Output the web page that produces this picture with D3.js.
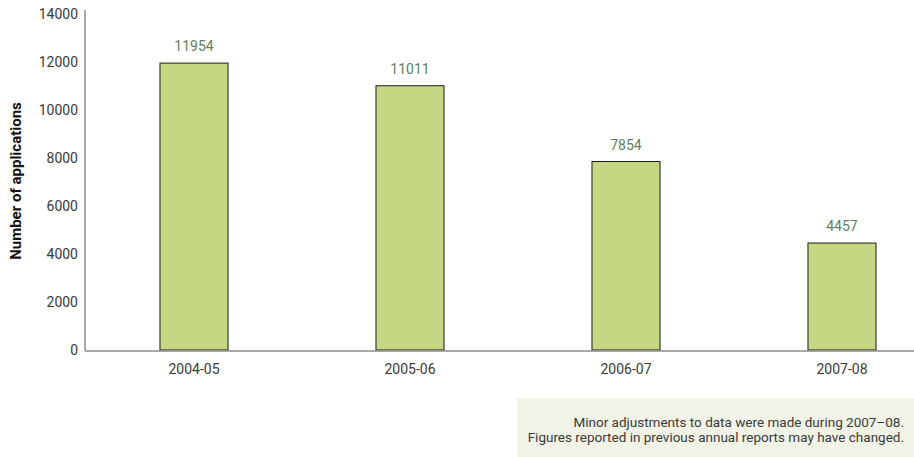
<!DOCTYPE html>
<html>
<head>
<meta charset="utf-8">
<script src="https://cdn.jsdelivr.net/npm/d3@7"></script>
<style>
  html, body { margin: 0; padding: 0; background: #fff; }
  svg { display: block; font-family: Roboto, "Open Sans", sans-serif; }
</style>
</head>
<body>
<svg id="chart" width="914" height="457"></svg>
<script>
// Applications received per financial year
const years = ["2004-05", "2005-06", "2006-07", "2007-08"];
const applications = [11954, 11011, 7854, 4457];
const yTicks = [0, 2000, 4000, 6000, 8000, 10000, 12000, 14000];
const noteLines = [
  "Minor adjustments to data were made during 2007\u201308.",
  "Figures reported in previous annual reports may have changed."
];

const svg = d3.select("#chart");
const axisColor = "#8c8c8c";
const textColor = "#3a3a3a";

const x = d3.scaleBand()
  .domain(years)
  .range([86, 950])
  .paddingInner(0.685)
  .paddingOuter(0.3425);

const y = d3.scaleLinear()
  .domain([0, 14000])
  .range([350, 14]);

// Bars
svg.append("g").selectAll("rect")
  .data(applications)
  .join("rect")
  .attr("x", (d, i) => x(years[i]))
  .attr("y", d => y(d))
  .attr("width", x.bandwidth())
  .attr("height", d => y(0) - y(d))
  .attr("fill", "#c5d783")
  .attr("stroke", "#1a1a1a")
  .attr("stroke-width", 1);

// Value labels
svg.append("g").selectAll("text")
  .data(applications)
  .join("text")
  .attr("x", (d, i) => x(years[i]) + x.bandwidth() / 2)
  .attr("y", d => y(d) - 12)
  .attr("text-anchor", "middle")
  .attr("font-size", 14)
  .attr("fill", "#5f7f5f")
  .text(d => d);

// Y axis
const yAxis = svg.append("g")
  .attr("transform", "translate(85,0)")
  .call(d3.axisLeft(y).tickValues(yTicks).tickSize(0).tickPadding(7).tickFormat(d3.format("d")));
yAxis.select(".domain").remove();
yAxis.selectAll("text").attr("font-size", 14).attr("fill", textColor)
  .attr("font-family", "Roboto, 'Open Sans', sans-serif");
svg.append("line")
  .attr("x1", 85).attr("x2", 85).attr("y1", 10).attr("y2", 351)
  .attr("stroke", axisColor).attr("stroke-width", 1.5);

// X axis
const xAxis = svg.append("g")
  .attr("transform", "translate(0,351)")
  .call(d3.axisBottom(x).tickSize(0).tickPadding(13));
xAxis.select(".domain").remove();
xAxis.selectAll("text").attr("font-size", 14).attr("fill", textColor)
  .attr("font-family", "Roboto, 'Open Sans', sans-serif");
svg.append("line")
  .attr("x1", 85).attr("x2", 914).attr("y1", 351).attr("y2", 351)
  .attr("stroke", axisColor).attr("stroke-width", 1.5);

// Y axis title
svg.append("text")
  .attr("transform", "translate(21,181) rotate(-90)")
  .attr("text-anchor", "middle")
  .attr("font-size", 15)
  .attr("font-weight", "bold")
  .attr("fill", "#111")
  .text("Number of applications");

// Note box
svg.append("rect")
  .attr("x", 517).attr("y", 398).attr("width", 397).attr("height", 59)
  .attr("fill", "#f1f3e6");
svg.append("g").selectAll("text")
  .data(noteLines)
  .join("text")
  .attr("x", 904)
  .attr("y", (d, i) => 427 + i * 15)
  .attr("text-anchor", "end")
  .attr("font-size", 13.5)
  .attr("fill", textColor)
  .text(d => d);
</script>
</body>
</html>
